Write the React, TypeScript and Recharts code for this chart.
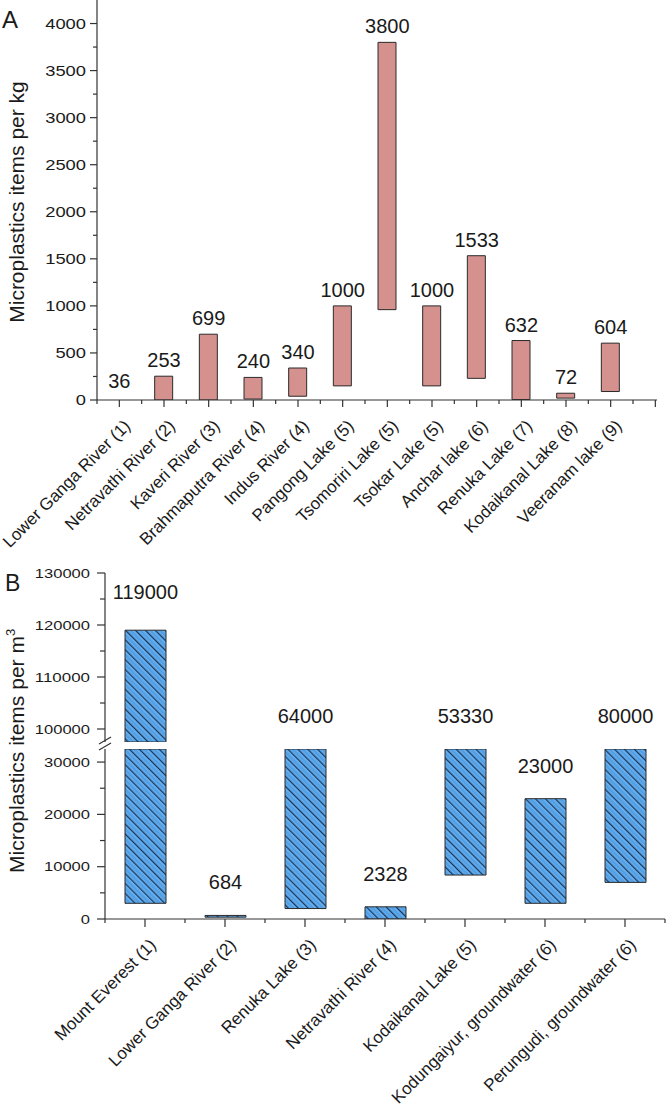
import React from 'react';
import { BarChart, ComposedChart, Bar, Line, XAxis, YAxis, LabelList } from 'recharts';

// panel A: sediment / soil (items per kg)
const sitesA = [
  'Lower Ganga River (1)',
  'Netravathi River (2)',
  'Kaveri River (3)',
  'Brahmaputra River (4)',
  'Indus River (4)',
  'Pangong Lake (5)',
  'Tsomoriri Lake (5)',
  'Tsokar Lake (5)',
  'Anchar lake (6)',
  'Renuka Lake (7)',
  'Kodaikanal Lake (8)',
  'Veeranam lake (9)',
];
const lowA = [36, 0, 0, 10, 40, 150, 960, 150, 230, 5, 20, 90];
const highA = [36, 253, 699, 240, 340, 1000, 3800, 1000, 1533, 632, 72, 604];
const ticksA = [0, 250, 500, 750, 1000, 1250, 1500, 1750, 2000, 2250, 2500, 2750, 3000, 3250, 3500, 3750, 4000];

// panel B: water (items per m3), broken y axis
const sitesB = [
  'Mount Everest (1)',
  'Lower Ganga River (2)',
  'Renuka Lake (3)',
  'Netravathi River (4)',
  'Kodaikanal Lake (5)',
  'Kodungaiyur, groundwater (6)',
  'Perungudi, groundwater (6)',
];
const lowB = [3000, 350, 2000, 0, 8400, 3000, 7000];
const highB = [119000, 684, 64000, 2328, 53330, 23000, 80000];
const ticksBLow = [0, 5000, 10000, 15000, 20000, 25000, 30000];
const ticksBHigh = [100000, 105000, 110000, 115000, 120000, 125000, 130000];
const BREAK_LOW = 32500;
const BREAK_HIGH = 97500;

const dataA = sitesA.map((site, i) => ({ site, range: [lowA[i], highA[i]], high: highA[i] }));
const dataBLow = sitesB.map((site, i) => ({
  site,
  range: [lowB[i], Math.min(highB[i], BREAK_LOW)],
  high: highB[i],
}));
const dataBHigh = sitesB.map((site, i) => ({
  site,
  range: highB[i] > BREAK_HIGH ? [Math.max(lowB[i], BREAK_HIGH), highB[i]] : null,
  high: highB[i],
}));

const AXIS = '#333';
const TEXT = '#1a1a1a';
const FONT = '"Liberation Sans", Arial, sans-serif';

const makeYTick = (major: number, majorLen: number, minorLen: number, fontSize: number, digitW: number, gap: number) =>
  (props: any) => {
    const { x, y, payload } = props;
    const v = payload.value;
    const isMajor = v % major === 0;
    const s = String(v);
    return (
      <g>
        <line x1={x - (isMajor ? majorLen : minorLen)} x2={x} y1={y} y2={y} stroke={AXIS} strokeWidth={1.2} />
        {isMajor && (
          <text x={x - gap} y={y} dy="0.36em" textAnchor="end" fontSize={fontSize} fill={TEXT}
            textLength={s.length * digitW} lengthAdjust="spacingAndGlyphs">
            {s}
          </text>
        )}
      </g>
    );
  };

const makeXTick = (bw: number, lastIndex: number, extraMajor: boolean, majorLen: number, minorLen: number) =>
  (props: any) => {
    const { x, y, payload, index } = props;
    return (
      <g>
        <line x1={x} x2={x} y1={y} y2={y + majorLen} stroke={AXIS} strokeWidth={1.2} />
        <line x1={x - bw / 2} x2={x - bw / 2} y1={y} y2={y + minorLen} stroke={AXIS} strokeWidth={1.2} />
        {index === lastIndex && (
          <line x1={x + bw / 2} x2={x + bw / 2} y1={y} y2={y + minorLen} stroke={AXIS} strokeWidth={1.2} />
        )}
        {index === lastIndex && extraMajor && (
          <line x1={x + bw} x2={x + bw} y1={y} y2={y + majorLen} stroke={AXIS} strokeWidth={1.2} />
        )}
        <text transform={`translate(${x + 12},${y + 27}) rotate(-45)`} textAnchor="end" fontSize={17} fill={TEXT}>
          {payload.value}
        </text>
      </g>
    );
  };

// label above a bar (B panels)
const makeBarLabel = (gap: number, show: (v: number) => boolean) => (props: any) => {
  const { x, y, width, value } = props;
  if (!show(value)) return null;
  return (
    <text x={x + width / 2} y={y - gap} textAnchor="middle" fontSize={20} fill={TEXT}>
      {value}
    </text>
  );
};

// label above a point (panel A, so zero-height ranges still get their number)
const pointLabel = (props: any) => {
  const { x, y, value } = props;
  return (
    <text x={x} y={y - 9} textAnchor="middle" fontSize={20} fill={TEXT}>
      {value}
    </text>
  );
};

const hatch = (id: string) => (
  <defs>
    <pattern id={id} patternUnits="userSpaceOnUse" width={7} height={7} patternTransform="rotate(-45)">
      <rect width={7} height={7} fill="#62aef2" />
      <line x1={0.6} y1={0} x2={0.6} y2={7} stroke="#1d3656" strokeWidth={1.3} />
      <line x1={4} y1={0} x2={4} y2={7} stroke="#3f84c4" strokeWidth={0.8} />
    </pattern>
  </defs>
);

export default function App() {
  return (
    <div style={{ position: 'absolute', left: 0, top: 0, width: 666, height: 1109, background: '#fff', fontFamily: FONT }}>
      <div style={{ position: 'absolute', left: 0, top: 0 }}>
        <ComposedChart width={666} height={565} data={dataA} margin={{ top: 0, right: 9, left: 0, bottom: 0 }}>
          <XAxis dataKey="site" interval={0} height={165} padding={{ left: 0, right: 24 }}
            tickLine={false} tickSize={0} tickMargin={0}
            axisLine={{ stroke: AXIS, strokeWidth: 1.2 }}
            tick={makeXTick(44.67, 11, true, 7, 4)} />
          <YAxis type="number" domain={[0, 4250]} ticks={ticksA} interval={0} width={97} allowDataOverflow
            tickLine={false} tickSize={0} tickMargin={0}
            axisLine={{ stroke: AXIS, strokeWidth: 1.2 }}
            tick={makeYTick(500, 7, 4, 14, 10.2, 11)} />
          <Bar dataKey="range" barSize={18} fill="#d4918e" stroke="#2b2b2b" strokeWidth={1} isAnimationActive={false} />
          <Line dataKey="high" stroke="none" dot={false} activeDot={false} legendType="none" isAnimationActive={false}>
            <LabelList dataKey="high" content={pointLabel} />
          </Line>
        </ComposedChart>
      </div>

      <div style={{ position: 'absolute', left: 0, top: 565 }}>
        <BarChart width={666} height={177} data={dataBHigh} margin={{ top: 8, right: 1, left: 0, bottom: 0 }}>
          {hatch('hatchB1')}
          <XAxis dataKey="site" hide />
          <YAxis type="number" domain={[BREAK_HIGH, 130000]} ticks={ticksBHigh} interval={0} width={105} allowDataOverflow
            tickLine={false} tickSize={0} tickMargin={0}
            axisLine={{ stroke: AXIS, strokeWidth: 1.2 }}
            tick={makeYTick(10000, 8, 5, 13, 9.2, 15)} />
          <Bar dataKey="range" barSize={41} fill="url(#hatchB1)" stroke="#2b2b2b" strokeWidth={1} isAnimationActive={false}>
            <LabelList dataKey="high" content={makeBarLabel(31, (v) => v > BREAK_HIGH)} />
          </Bar>
        </BarChart>
      </div>

      <div style={{ position: 'absolute', left: 0, top: 680 }}>
        <BarChart width={666} height={429} data={dataBLow} margin={{ top: 69, right: 1, left: 0, bottom: 0 }}>
          {hatch('hatchB2')}
          <XAxis dataKey="site" interval={0} height={190}
            tickLine={false} tickSize={0} tickMargin={0}
            axisLine={{ stroke: AXIS, strokeWidth: 1.2 }}
            tick={makeXTick(80, 6, false, 8, 4)} />
          <YAxis type="number" domain={[0, BREAK_LOW]} ticks={ticksBLow} interval={0} width={105} allowDataOverflow
            tickLine={false} tickSize={0} tickMargin={0}
            axisLine={{ stroke: AXIS, strokeWidth: 1.2 }}
            tick={makeYTick(10000, 8, 5, 13, 9.2, 15)} />
          <Bar dataKey="range" barSize={41} fill="url(#hatchB2)" stroke="#2b2b2b" strokeWidth={1} isAnimationActive={false}>
            <LabelList dataKey="high" content={makeBarLabel(26, (v) => v < BREAK_HIGH)} />
          </Bar>
        </BarChart>
      </div>

      <svg width={666} height={1109} style={{ position: 'absolute', left: 0, top: 0, pointerEvents: 'none' }}>
        <text x={2} y={28} fontSize={24} fill={TEXT}>A</text>
        <text x={5} y={591} fontSize={23} fill={TEXT}>B</text>
        <text transform="translate(24,202) rotate(-90)" textAnchor="middle" fontSize={21} fill={TEXT}>
          Microplastics items per kg
        </text>
        <text transform="translate(24,873) rotate(-90)" textAnchor="start" fontSize={21} fill={TEXT}>
          Microplastics items per m
          <tspan dy={-9} fontSize={13}>3</tspan>
        </text>
        <line x1={99} y1={744} x2={111} y2={737} stroke={AXIS} strokeWidth={1.2} />
        <line x1={99} y1={750} x2={111} y2={743} stroke={AXIS} strokeWidth={1.2} />
      </svg>
    </div>
  );
}
